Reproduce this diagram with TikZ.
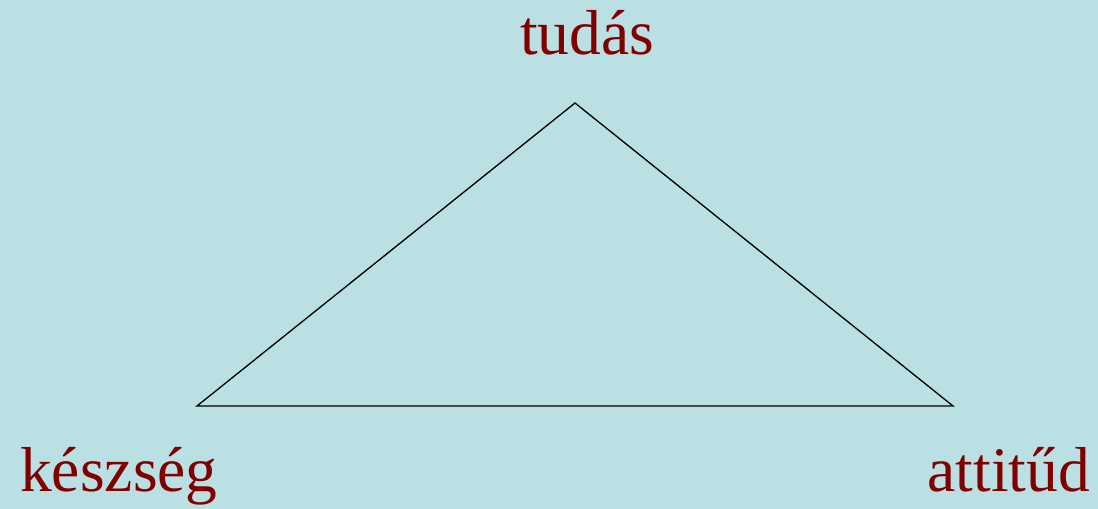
\documentclass[tikz,border=0pt]{standalone}
\usepackage{fontspec}
\setmainfont{Liberation Serif}
\usetikzlibrary{positioning}
\definecolor{Bg}{HTML}{BBE0E3}
\definecolor{Wine}{HTML}{800000}

\begin{document}
\begin{tikzpicture}[x=0.75pt,y=0.75pt]
    \fill[Bg] (0,0) rectangle (1098,509);
    \useasboundingbox (0,0) rectangle (1098,509);
    \tikzset{corner/.style={inner sep=0pt,font=\fontsize{47.6}{57}\selectfont,text=Wine}}
    \coordinate (top) at (575,406);
    \coordinate (left) at (197,103);
    \coordinate (right) at (953,103);
    \draw[line width=1pt,line join=miter] (top) -- (left) -- (right) -- cycle;
    \node[corner,anchor=base] (tudas) at (587,454) {tudás};
    \node[corner,anchor=base west] (keszseg) at (20,17) {készség};
    \node[corner,anchor=base east] (attitud) at (1090,17) {attitűd};
  \end{tikzpicture}
\end{document}
